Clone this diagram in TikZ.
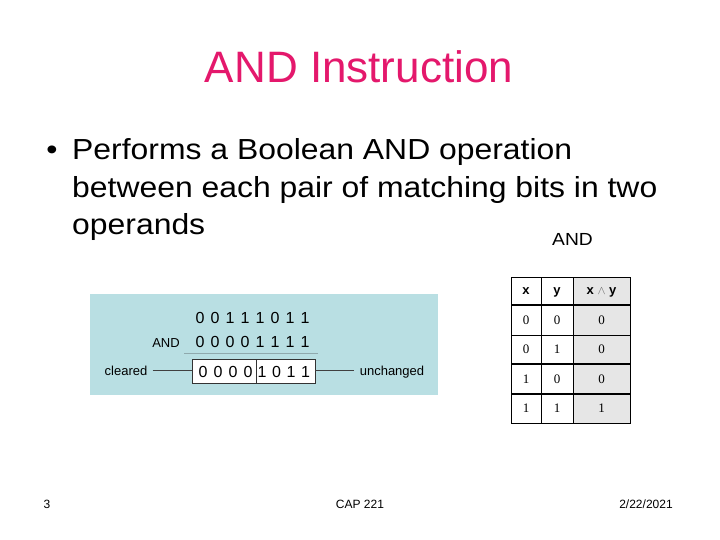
\documentclass[tikz,border=0pt]{standalone}
\usepackage{fontspec}
\setmainfont{Liberation Sans}
\newfontfamily\andserif{Liberation Serif}
\newfontfamily\andwide[FakeStretch=1.1]{Liberation Sans}
\usepackage{xcolor}
\definecolor{andpink}{HTML}{E4186C}
\definecolor{andcyan}{HTML}{B9DFE3}
\definecolor{andshade}{HTML}{E6E6E6}
\definecolor{andrule}{HTML}{8FA9AD}
\usetikzlibrary{positioning,calc}
\tikzset{
  andtitle/.style={font=\fontsize{44}{48}\selectfont,text=andpink,anchor=base,inner sep=0pt},
  andbody/.style={font=\andwide\fontsize{29}{34}\selectfont,anchor=base west,inner sep=0pt},
  anddigit/.style={font=\fontsize{16}{18}\selectfont,anchor=base,inner sep=0pt},
  andsmall/.style={font=\fontsize{13}{15}\selectfont,anchor=base,inner sep=0pt},
  andhead/.style={font=\fontsize{13}{15}\selectfont\bfseries,anchor=base,inner sep=0pt},
  andval/.style={font=\fontsize{13}{15}\selectfont\andserif,anchor=base,inner sep=0pt},
  andfoot/.style={font=\fontsize{12}{14}\selectfont,anchor=base,inner sep=0pt},
  andwire/.style={line width=0.8pt,draw=black!75},
}

\begin{document}
\begin{tikzpicture}[x=1pt,y=-1pt]
\useasboundingbox[fill=white] (0,0) rectangle (720,540);
 % title and bullet
\node[andtitle] (title) at (359,83) {AND Instruction};
\node[andbody,anchor=base] (dot) at (52,160) {\textbullet};
\node[andbody] (l1) at (72,160) {Performs a Boolean AND operation};
\node[andbody] (l2) at (72,197) {between each pair of matching bits in two};
\node[andbody] (l3) at (72,234) {operands};
 % worked example
\fill[andcyan] (90,294) rectangle (438,395);
\foreach \d [count=\i from 0] in {0,0,1,1,1,0,1,1}
  \node[anddigit] (op1\i) at (200+15*\i,323) {\d};
\foreach \d [count=\i from 0] in {0,0,0,0,1,1,1,1}
  \node[anddigit] (op2\i) at (200+15*\i,347) {\d};
\node[andsmall] (andop) at (166,347) {AND};
\draw[draw=andrule,line width=0.6pt] (184,353) -- (318,353);
\node[draw=black!80,fill=white,line width=0.8pt,minimum width=123pt,minimum height=24pt,inner sep=0pt] (res) at (253.5,371) {};
\draw[black!80,line width=0.7pt] (256,359) -- (256,383);
\foreach \d [count=\i from 0] in {0,0,0,0}
  \node[anddigit] (rl\i) at (203+15*\i,377) {\d};
\foreach \d [count=\i from 0] in {1,0,1,1}
  \node[anddigit] (rr\i) at (262+14.5*\i,377) {\d};
\node[andsmall] (clr) at (126,375) {cleared};
\node[andsmall] (unch) at (392,375) {unchanged};
\draw[andwire] ([xshift=5pt]clr.east) -- (res.west |- clr.east);
\draw[andwire] (res.east |- clr.east) -- ($(unch.west |- clr.east)+(-6,0)$);
 % truth table
\node[font=\andwide\fontsize{17.5}{20}\selectfont,anchor=base,inner sep=0pt] (tlabel) at (572.5,245) {AND};
\fill[andshade] (573,277) rectangle (630,423);
\draw[line width=0.8pt] (511,277) rectangle (630,423);
\draw[line width=0.8pt] (541,277) -- (541,423) (573,277) -- (573,423);
\draw[line width=2.6pt] (511,305) -- (630,305);
\draw[line width=0.8pt] (511,335) -- (630,335);
\draw[line width=2pt] (511,364) -- (630,364);
\draw[line width=2pt] (511,393.5) -- (630,393.5);
\node[andhead] (hx) at (526,294) {x};
\node[andhead] (hy) at (557,294) {y};
\node[andhead] (hxy) at (601.5,294) {x {\mdseries\color{black!60}$\wedge$} y};
\foreach \a/\b/\c [count=\r from 0] in {0/0/0,0/1/0,1/0/0,1/1/1}{
  \node[andval] (va\r) at (526,324+29.5*\r) {\a};
  \node[andval] (vb\r) at (557,324+29.5*\r) {\b};
  \node[andval] (vc\r) at (601.5,324+29.5*\r) {\c};
}
 % footer
\node[andfoot] (num) at (47,508) {3};
\node[andfoot] (course) at (360,508) {CAP 221};
\node[andfoot] (date) at (646,508) {2/22/2021};
\end{tikzpicture}
\end{document}
